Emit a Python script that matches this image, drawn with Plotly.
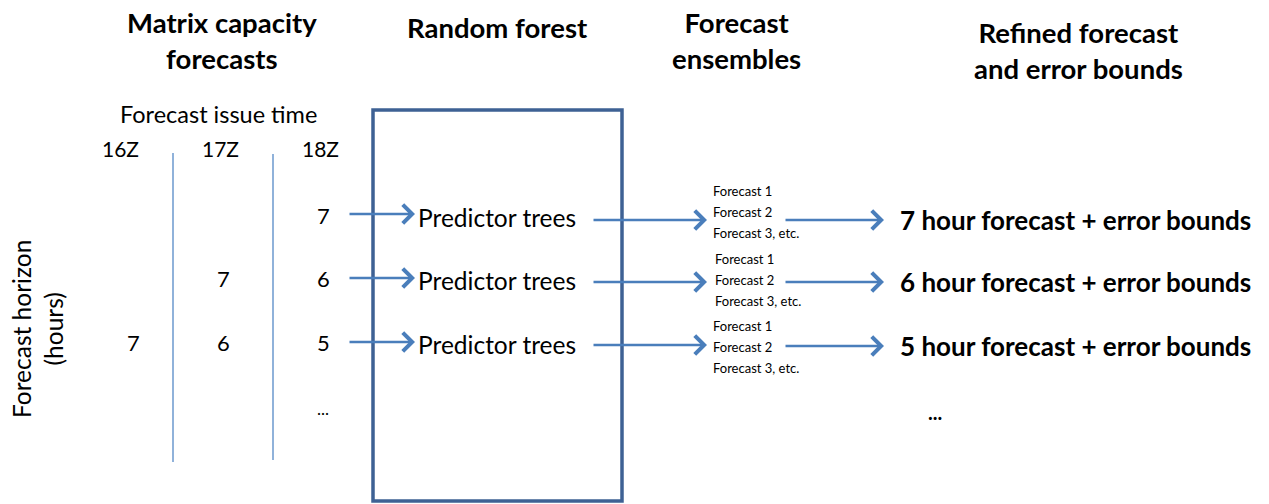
import plotly.graph_objects as go

# diagram content
column_titles = ["Matrix capacity<br>forecasts", "Random forest", "Forecast<br>ensembles",
                 "Refined forecast<br>and error bounds"]
issue_time_label = "Forecast issue time"
issue_times = ["16Z", "17Z", "18Z"]
horizon_label = "Forecast horizon<br>(hours)"
# forecast horizon by row (top to bottom) and issue time column
horizons = [[None, None, "7"],
            [None, "7", "6"],
            ["7", "6", "5"]]
model_label = "Predictor trees"
ensemble_members = ["Forecast 1", "Forecast 2", "Forecast 3, etc."]
outputs = ["7 hour forecast + error bounds", "6 hour forecast + error bounds",
           "5 hour forecast + error bounds"]

W, H = 1269, 504
FONT = "Lato"
ARROW = "#4A7EBB"

fig = go.Figure()
ann = []
shapes = []


def text(x, y, s, size, bold=False, xanchor="center", angle=0):
    ann.append(dict(x=x, y=y, xref="x", yref="y", text=f"<b>{s}</b>" if bold else s,
                    showarrow=False, xanchor=xanchor, yanchor="middle", textangle=angle,
                    font=dict(family=FONT, size=size, color="black")))


def arrow(x0, x1, y):
    ann.append(dict(x=x1, y=y, ax=x0, ay=y, xref="x", yref="y", axref="x", ayref="y",
                    text="", showarrow=True, arrowhead=4, arrowsize=1.5, arrowwidth=2.4,
                    arrowcolor=ARROW))


# column titles
for t, x, y in zip(column_titles, [222, 497, 736, 1078], [40, 27, 40, 50]):
    text(x, y, t, 27.5, bold=True)

text(218, 114, issue_time_label, 23.5)
col_x = [120, 220, 320]
for t, x in zip(issue_times, col_x):
    text(x, 148, t, 21)

text(37, 329, horizon_label, 24.5, angle=-90)

row_y = [215, 278, 342]
num_x = [133, 223, 323]
for row, y in zip(horizons, row_y):
    for v, x in zip(row, num_x):
        if v is not None:
            text(x, y, v, 22)
text(323, 408, "...", 17)

# separators between issue times
shapes.append(dict(type="line", x0=173, x1=173, y0=153, y1=462, xref="x", yref="y",
                   line=dict(color="#6B98CE", width=1.5)))
shapes.append(dict(type="line", x0=273, x1=273, y0=154, y1=460, xref="x", yref="y",
                   line=dict(color="#6B98CE", width=1.5)))
# random forest box
shapes.append(dict(type="rect", x0=373, x1=622, y0=110, y1=501, xref="x", yref="y",
                   line=dict(color="#3E6194", width=3.5)))

in_y = [214, 278, 342]
mid_y = [220, 282, 345]
out_y = [220, 282, 346]
ens_y = [212, 280, 347]
ens_x = [711, 713, 711]
for i in range(3):
    arrow(348, 415, in_y[i])
    text(497, row_y[i] + 2, model_label, 24.5)
    arrow(592, 707, mid_y[i])
    for k, m in enumerate(ensemble_members):
        text(ens_x[i], ens_y[i] + (k - 1) * 21, m, 13, xanchor="left")
    arrow(784, 884, out_y[i])
    text(898, out_y[i], outputs[i], 26, bold=True, xanchor="left")
text(935, 412, "...", 20, bold=True)

fig.update_layout(
    width=W, height=H, margin=dict(l=0, r=0, t=0, b=0),
    paper_bgcolor="white", plot_bgcolor="white",
    xaxis=dict(range=[0, W], visible=False, fixedrange=True),
    yaxis=dict(range=[H, 0], visible=False, fixedrange=True),
    annotations=ann, shapes=shapes, showlegend=False,
)
# drop the default page margin so figure pixels line up with the window
fig.write_html("out.html", config={"displayModeBar": False},
               post_script="document.body.style.margin='0';")
